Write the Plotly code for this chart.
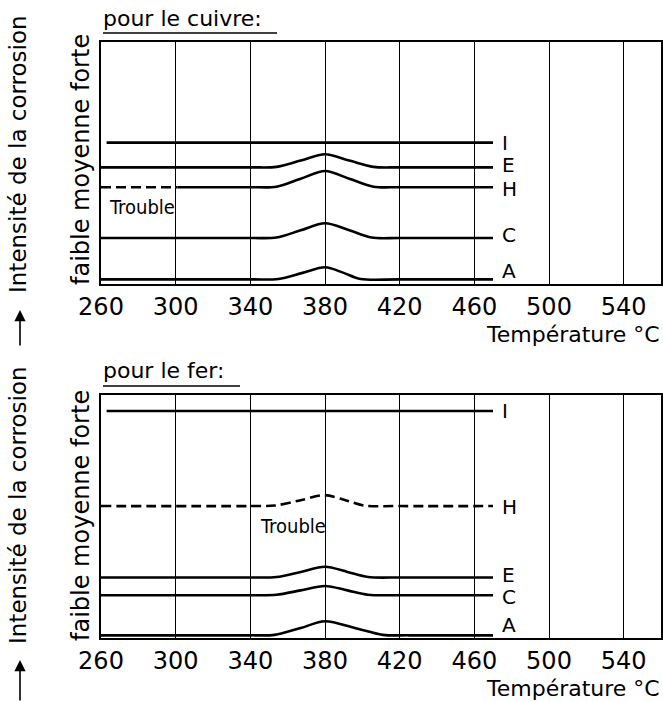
import plotly.graph_objects as go

W, H = 663, 702

# ---- data (temperature °C, corrosion intensity 0..10 arbitrary scale) ----
x_ticks = [260, 300, 340, 380, 420, 460, 500, 540]
tick_labels = ["260", "300", "340", "380", "420", "460", "500", "540"]

# Copper ("pour le cuivre")
cu_I_x = [263, 470]
cu_I_y = [5.84, 5.84]
cu_E_x = [260, 340, 354, 367, 380, 393, 406, 420, 470]
cu_E_y = [4.82, 4.82, 4.84, 5.10, 5.36, 5.10, 4.84, 4.82, 4.82]
cu_Hd_x = [260, 301]
cu_Hd_y = [4.00, 4.00]
cu_H_x = [301, 340, 354, 367, 380, 393, 406, 420, 470]
cu_H_y = [4.00, 4.00, 4.02, 4.35, 4.67, 4.35, 4.02, 4.00, 4.00]
cu_C_x = [260, 340, 354, 367, 380, 393, 405, 420, 470]
cu_C_y = [1.90, 1.90, 1.92, 2.22, 2.51, 2.22, 1.92, 1.90, 1.90]
cu_A_x = [260, 340, 355, 368, 380, 390, 399, 420, 470]
cu_A_y = [0.19, 0.19, 0.21, 0.46, 0.69, 0.46, 0.21, 0.19, 0.19]

# Iron ("pour le fer")
fe_I_x = [263, 470]
fe_I_y = [9.34, 9.34]
fe_H_x = [260, 340, 353, 367, 380, 391, 401, 420, 470]
fe_H_y = [5.43, 5.43, 5.45, 5.67, 5.88, 5.67, 5.45, 5.43, 5.43]
fe_E_x = [260, 340, 354, 367, 380, 392, 403, 420, 470]
fe_E_y = [2.49, 2.49, 2.51, 2.72, 2.93, 2.72, 2.51, 2.49, 2.49]
fe_C_x = [260, 340, 354, 367, 380, 392, 403, 420, 470]
fe_C_y = [1.76, 1.76, 1.78, 1.96, 2.14, 1.96, 1.78, 1.76, 1.76]
fe_A_x = [260, 340, 353, 367, 380, 396, 411, 425, 470]
fe_A_y = [0.11, 0.11, 0.13, 0.41, 0.69, 0.41, 0.13, 0.11, 0.11]

FONT = "DejaVu Sans"
NARROW = "Liberation Sans Narrow, DejaVu Sans Condensed, Liberation Sans"
LW = 2.6
DASH = "10px,5px"

fig = go.Figure()

def add(x, y, xa, ya, dash="solid"):
    fig.add_trace(go.Scatter(x=x, y=y, mode="lines", xaxis=xa, yaxis=ya,
                             line=dict(color="black", width=LW, dash=dash,
                                       shape="spline", smoothing=0.9),
                             showlegend=False, hoverinfo="skip"))

add(cu_I_x, cu_I_y, "x", "y")
add(cu_E_x, cu_E_y, "x", "y")
add(cu_Hd_x, cu_Hd_y, "x", "y", DASH)
add(cu_H_x, cu_H_y, "x", "y")
add(cu_C_x, cu_C_y, "x", "y")
add(cu_A_x, cu_A_y, "x", "y")

add(fe_I_x, fe_I_y, "x2", "y2")
add(fe_H_x, fe_H_y, "x2", "y2", DASH)
add(fe_E_x, fe_E_y, "x2", "y2")
add(fe_C_x, fe_C_y, "x2", "y2")
add(fe_A_x, fe_A_y, "x2", "y2")

def px_x(p):
    return p / W

def px_y(p):
    return 1 - p / H

xdom = [px_x(101), px_x(661)]
top_dom = [px_y(284), px_y(42)]
bot_dom = [px_y(638), px_y(395)]

xcommon = dict(range=[260, 560], tickvals=x_ticks, ticktext=tick_labels,
               showgrid=True, gridcolor="black", gridwidth=1,
               showline=True, linecolor="black", linewidth=1.6, mirror=True,
               ticks="", zeroline=False, automargin=False,
               tickfont=dict(family=FONT, size=24, color="black"),
               domain=xdom, fixedrange=True)
ycommon = dict(range=[0, 10], showgrid=False, showticklabels=False, ticks="",
               showline=True, linecolor="black", linewidth=1.6, mirror=True,
               zeroline=False, fixedrange=True, automargin=False)

fig.update_layout(
    width=W, height=H,
    margin=dict(l=0, r=0, t=0, b=0, pad=0, autoexpand=False),
    paper_bgcolor="white", plot_bgcolor="white",
    xaxis=dict(**xcommon, anchor="y"),
    yaxis=dict(**ycommon, domain=top_dom, anchor="x"),
    xaxis2=dict(**xcommon, anchor="y2"),
    yaxis2=dict(**ycommon, domain=bot_dom, anchor="x2"),
)

ann = []
shapes = []

# curve labels at the right end of each curve
def end_label(text, x, y, xa, ya, shift=0):
    ann.append(dict(text=text, x=x[-1] + 4, y=y[-1], xref=xa, yref=ya,
                    xanchor="left", yanchor="middle", showarrow=False,
                    yshift=shift,
                    font=dict(family=FONT, size=20, color="black")))

end_label("I", cu_I_x, cu_I_y, "x", "y")
end_label("E", cu_E_x, cu_E_y, "x", "y", 2)
end_label("H", cu_H_x, cu_H_y, "x", "y", -2)
end_label("C", cu_C_x, cu_C_y, "x", "y", 3)
end_label("A", cu_A_x, cu_A_y, "x", "y", 8)

end_label("I", fe_I_x, fe_I_y, "x2", "y2")
end_label("H", fe_H_x, fe_H_y, "x2", "y2", -1)
end_label("E", fe_E_x, fe_E_y, "x2", "y2", 2)
end_label("C", fe_C_x, fe_C_y, "x2", "y2", -2)
end_label("A", fe_A_x, fe_A_y, "x2", "y2", 10)

# "Trouble" notes
ann.append(dict(text="Trouble", x=263, y=cu_Hd_y[0], xref="x", yref="y",
                xanchor="left", yanchor="top", yshift=-6, showarrow=False,
                font=dict(family=NARROW, size=20, color="black")))
ann.append(dict(text="Trouble", x=344, y=fe_H_y[0], xref="x2", yref="y2",
                xanchor="left", yanchor="top", yshift=-6, showarrow=False,
                font=dict(family=NARROW, size=20, color="black")))

for yc, title, x1, yl in [(18, "pour le cuivre:", 277, 33), (370, "pour le fer:", 240, 386)]:
    ann.append(dict(text=title, x=px_x(101), y=px_y(yc), xref="paper", yref="paper",
                    xanchor="left", yanchor="middle", showarrow=False,
                    font=dict(family=FONT, size=22, color="black")))
    shapes.append(dict(type="line", xref="paper", yref="paper",
                       x0=px_x(103), x1=px_x(x1), y0=px_y(yl), y1=px_y(yl),
                       line=dict(color="black", width=1.5)))

for yc in [160, 516]:
    ann.append(dict(text="faible moyenne forte", x=px_x(81), y=px_y(yc),
                    xref="paper", yref="paper", textangle=-90,
                    xanchor="center", yanchor="middle", showarrow=False,
                    font=dict(family=FONT, size=24, color="black")))

for yc in [154, 505]:
    ann.append(dict(text="Intensité de la corrosion", x=px_x(18), y=px_y(yc),
                    xref="paper", yref="paper", textangle=-90,
                    xanchor="center", yanchor="middle", showarrow=False,
                    font=dict(family=FONT, size=23, color="black")))

for head, tail in [(310, 347), (660, 702)]:
    ann.append(dict(text="", x=px_x(20), y=px_y(head), xref="paper", yref="paper",
                    ax=0, ay=tail - head, showarrow=True, arrowhead=2,
                    arrowsize=1.4, arrowwidth=1.6, arrowcolor="black"))

for yc in [334, 688]:
    ann.append(dict(text="Température °C", x=px_x(662), y=px_y(yc),
                    xref="paper", yref="paper", xanchor="right", yanchor="middle",
                    showarrow=False, font=dict(family=FONT, size=22, color="black")))

fig.update_layout(annotations=ann, shapes=shapes)
fig.write_html("out.html")
